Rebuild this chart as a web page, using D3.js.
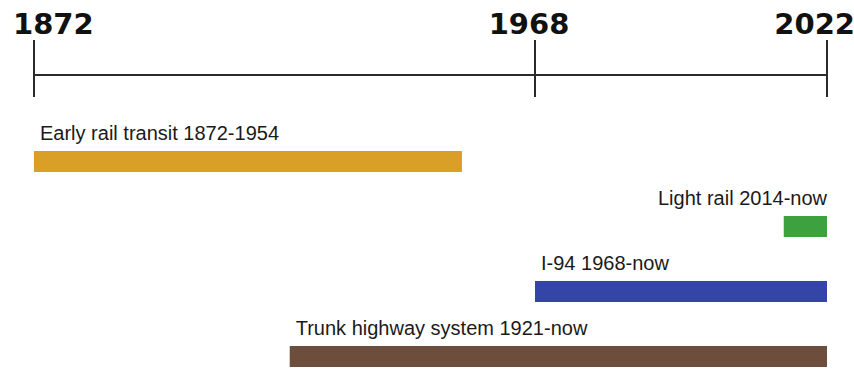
<!DOCTYPE html>
<html>
<head>
<meta charset="utf-8">
<script src="https://cdn.jsdelivr.net/npm/d3@7"></script>
<style>
  body { margin: 0; background: #fff; }
  svg { display: block; }
</style>
</head>
<body>
<svg id="chart"></svg>
<script>
// timeline data
const names = ["Early rail transit", "Light rail", "I-94", "Trunk highway system"];
const startYears = [1872, 2014, 1968, 1921];
const endYears = [1954, 2022, 2022, 2022];
const spanLabels = ["1872-1954", "2014-now", "1968-now", "1921-now"];
const colors = ["#da9f27", "#3ea13f", "#3444a7", "#6d4e3c"];
const tickYears = [1872, 1968, 2022];

const width = 854, height = 370;

const svg = d3.select("#chart").attr("width", width).attr("height", height);

// x scale pinned to the three axis ticks
const x = d3.scaleLinear()
  .domain(tickYears)
  .range([34, 535, 827]);

// one row per item
const y = d3.scalePoint()
  .domain(names)
  .range([151, 346]);

const barH = 21;

// axis line + ticks
const axisY = 75;
svg.append("line")
  .attr("x1", x(tickYears[0])).attr("x2", x(tickYears[tickYears.length - 1]))
  .attr("y1", axisY).attr("y2", axisY)
  .attr("stroke", "#2a2a2a").attr("stroke-width", 2);

svg.append("g")
  .selectAll("line")
  .data(tickYears)
  .join("line")
    .attr("x1", d => x(d)).attr("x2", d => x(d))
    .attr("y1", 40).attr("y2", 97)
    .attr("stroke", "#2a2a2a").attr("stroke-width", 2);

// year labels above ticks
svg.append("g")
  .selectAll("text")
  .data(tickYears)
  .join("text")
    .attr("x", (d, i) => i === 0 ? x(d) - 21 : i === tickYears.length - 1 ? x(d) + 28 : x(d) - 6)
    .attr("y", 34)
    .attr("text-anchor", (d, i) => i === 0 ? "start" : i === tickYears.length - 1 ? "end" : "middle")
    .attr("font-family", "DejaVu Sans, Verdana, sans-serif")
    .attr("font-weight", "bold")
    .attr("font-size", 29)
    .attr("fill", "#111")
    .text(d => d);

const rows = names.map((n, i) => ({
  name: n, start: startYears[i], end: endYears[i], span: spanLabels[i], color: colors[i]
}));

// bars
svg.append("g")
  .selectAll("rect")
  .data(rows)
  .join("rect")
    .attr("x", d => x(d.start))
    .attr("y", d => y(d.name))
    .attr("width", d => x(d.end) - x(d.start))
    .attr("height", barH)
    .attr("fill", d => d.color);

// labels: short bars get a right-aligned label
svg.append("g")
  .selectAll("text")
  .data(rows)
  .join("text")
    .attr("x", d => (x(d.end) - x(d.start) < 100) ? x(d.end) : x(d.start) + 6)
    .attr("y", d => y(d.name) - 11)
    .attr("text-anchor", d => (x(d.end) - x(d.start) < 100) ? "end" : "start")
    .attr("font-family", "Liberation Sans, Arial, sans-serif")
    .attr("font-size", 20)
    .attr("fill", "#1a1a1a")
    .text(d => d.name + " " + d.span);
</script>
</body>
</html>
